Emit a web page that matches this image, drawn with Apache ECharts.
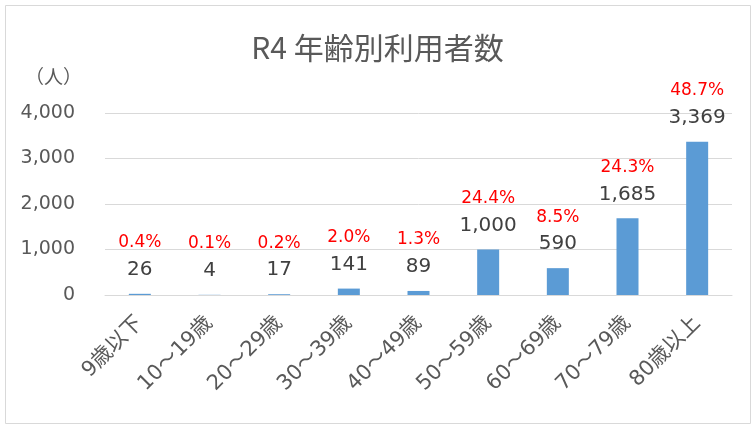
<!DOCTYPE html>
<html><head><meta charset="utf-8">
<script src="https://cdn.jsdelivr.net/npm/echarts@6/dist/echarts.min.js"></script>
<style>html,body{margin:0;padding:0;background:#fff}#c{width:755px;height:426px}</style>
</head><body><div id="c"></div>
<script>
const categories = ['9歳以下','10～19歳','20～29歳','30～39歳','40～49歳','50～59歳','60～69歳','70～79歳','80歳以上'];
const values = [26, 4, 17, 141, 89, 1000, 590, 1685, 3369];
const percents = ['0.4%','0.1%','0.2%','2.0%','1.3%','24.4%','8.5%','24.3%','48.7%'];
const yTicks = [0, 1000, 2000, 3000, 4000];

const FONT = '"Noto Sans CJK JP", "Noto Sans", sans-serif';
const NUMFONT = '"DejaVu Sans", "Noto Sans CJK JP", sans-serif';
const chart = echarts.init(document.getElementById('c'), null, {renderer: 'canvas'});
chart.setOption({
  animation: false,
  backgroundColor: '#fff',
  textStyle: {fontFamily: FONT},
  title: {
    text: 'R4 年齢別利用者数',
    left: 'center', top: 28,
    textStyle: {fontFamily: FONT, fontSize: 30, fontWeight: 'normal', color: '#595959'}
  },
  graphic: [
    {type: 'rect', shape: {x: 5.5, y: 5.5, width: 745, height: 418}, style: {fill: 'none', stroke: '#d9d9d9', lineWidth: 1}, silent: true},
    {type: 'text', left: 25, top: 67, style: {text: '（人）', fontFamily: FONT, fontSize: 19, fill: '#595959'}}
  ],
  grid: {left: 105, right: 23, top: 113, bottom: 131},
  xAxis: {
    type: 'category', data: categories,
    axisLine: {show: true, lineStyle: {color: '#d9d9d9', width: 1}},
    axisTick: {show: false},
    axisLabel: {rotate: 45, fontSize: 21, color: '#595959', fontFamily: NUMFONT, margin: 25, interval: 0}
  },
  yAxis: {
    type: 'value', min: yTicks[0], max: yTicks[yTicks.length - 1], interval: 1000,
    axisLine: {show: false}, axisTick: {show: false},
    splitLine: {lineStyle: {color: '#d9d9d9', width: 1}},
    axisLabel: {fontSize: 19, color: '#595959', fontFamily: NUMFONT, margin: 30,
      formatter: v => v.toLocaleString('en-US')}
  },
  series: [{
    type: 'bar', data: values, barWidth: 22,
    itemStyle: {color: '#5B9BD5'},
    label: {
      show: true, position: 'top', distance: 11,
      formatter: p => '{p|' + percents[p.dataIndex] + '}\n{v|' + p.value.toLocaleString('en-US') + '}',
      rich: {
        p: {fontSize: 17, color: '#FF0000', lineHeight: 28, fontFamily: NUMFONT},
        v: {fontSize: 20, color: '#404040', lineHeight: 26, fontFamily: NUMFONT}
      }
    }
  }]
});
</script></body></html>
